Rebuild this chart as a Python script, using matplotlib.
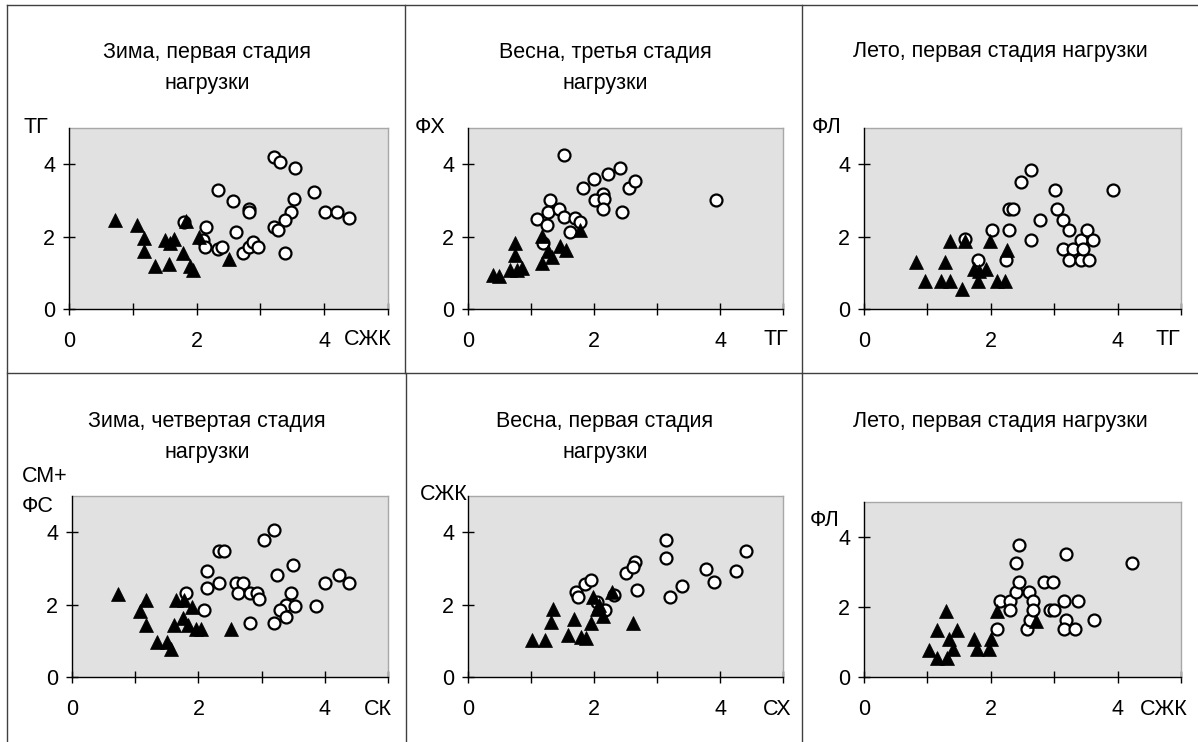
import matplotlib
matplotlib.use("Agg")
import matplotlib.pyplot as plt
from matplotlib.lines import Line2D

plt.rcParams['font.family'] = ['Liberation Sans', 'DejaVu Sans']

W, H = 1198, 742
FS = 15.5

# ---------------- data ----------------
titles = [
    "Зима, первая стадия\nнагрузки",
    "Весна, третья стадия\nнагрузки",
    "Лето, первая стадия нагрузки",
    "Зима, четвертая стадия\nнагрузки",
    "Весна, первая стадия\nнагрузки",
    "Лето, первая стадия нагрузки",
]
x_labels = ["СЖК", "ТГ", "ТГ", "СК", "СХ", "СЖК"]
y_labels = ["ТГ", "ФХ", "ФЛ", "СМ+\nФС", "СЖК", "ФЛ"]
x_ticks = [0, 2, 4]
y_ticks = [0, 2, 4]

# panel 1
p1_circ_x = [3.21, 3.30, 3.55, 2.34, 2.57, 2.82, 2.82, 3.84, 3.52, 3.48, 3.39, 4.02, 4.20, 4.39,
             3.21, 3.28, 2.15, 2.61, 1.80, 2.10, 2.13, 2.33, 2.40, 2.73, 2.82, 2.88, 2.97, 3.39]
p1_circ_y = [4.20, 4.06, 3.89, 3.29, 2.99, 2.77, 2.68, 3.23, 3.05, 2.69, 2.45, 2.69, 2.69, 2.51,
             2.27, 2.19, 2.27, 2.14, 2.41, 1.90, 1.71, 1.67, 1.71, 1.55, 1.71, 1.85, 1.71, 1.55]
p1_tri_x = [0.72, 1.07, 1.17, 1.17, 1.35, 1.50, 1.56, 1.59, 1.65, 1.78, 1.83, 1.90, 1.95, 2.04, 2.50]
p1_tri_y = [2.47, 2.31, 1.96, 1.61, 1.20, 1.90, 1.25, 1.81, 1.94, 1.55, 2.43, 1.20, 1.08, 1.99, 1.38]

# panel 2
p2_circ_x = [1.53, 1.30, 1.10, 1.27, 1.25, 1.44, 1.53, 1.70, 1.62, 1.77, 1.19, 1.83, 2.00, 2.23,
             2.41, 2.14, 2.02, 2.16, 2.14, 2.44, 2.56, 2.65, 3.93]
p2_circ_y = [4.26, 3.00, 2.50, 2.69, 2.31, 2.75, 2.55, 2.52, 2.13, 2.41, 1.82, 3.35, 3.60, 3.72,
             3.89, 3.19, 3.01, 3.05, 2.75, 2.68, 3.35, 3.53, 3.00]
p2_tri_x = [0.39, 0.49, 0.66, 0.74, 0.74, 0.77, 0.86, 1.17, 1.17, 1.27, 1.34, 1.46, 1.56, 1.77]
p2_tri_y = [0.94, 0.90, 1.08, 1.82, 1.50, 1.08, 1.13, 2.01, 1.27, 1.59, 1.45, 1.75, 1.64, 2.19]

# panel 3
p3_circ_x = [1.60, 1.80, 2.02, 2.29, 2.29, 2.35, 2.24, 2.47, 2.63, 2.63, 2.77, 3.02, 3.05, 3.14,
             3.24, 3.14, 3.30, 3.24, 3.42, 3.42, 3.51, 3.46, 3.55, 3.61, 3.93]
p3_circ_y = [1.92, 1.36, 2.19, 2.19, 2.75, 2.75, 1.36, 3.52, 3.83, 1.90, 2.45, 3.29, 2.75, 2.45,
             2.19, 1.67, 1.67, 1.36, 1.36, 1.90, 2.19, 1.67, 1.36, 1.90, 3.29]
p3_tri_x = [0.82, 0.97, 1.21, 1.27, 1.36, 1.36, 1.54, 1.60, 1.74, 1.80, 1.82, 1.93, 1.99, 2.09, 2.22, 2.25]
p3_tri_y = [1.31, 0.78, 0.78, 1.31, 1.87, 0.78, 0.55, 1.87, 1.10, 0.78, 1.04, 1.10, 1.87, 0.78, 0.78, 1.64]

# panel 4
p4_circ_x = [1.80, 2.09, 2.13, 2.13, 2.32, 2.32, 2.41, 2.59, 2.71, 2.62, 2.81, 2.92, 2.96, 3.04,
             2.81, 3.20, 3.25, 3.50, 3.47, 3.39, 3.29, 3.38, 3.53, 3.20, 3.86, 4.01, 4.23, 4.38]
p4_circ_y = [2.33, 1.85, 2.94, 2.45, 2.61, 3.47, 3.47, 2.61, 2.61, 2.31, 2.31, 2.33, 2.15, 3.79,
             1.48, 4.07, 2.81, 3.10, 2.33, 1.98, 1.85, 1.67, 1.96, 1.48, 1.96, 2.61, 2.81, 2.61]
p4_tri_x = [0.72, 1.17, 1.08, 1.17, 1.35, 1.50, 1.56, 1.61, 1.65, 1.75, 1.78, 1.83, 1.90, 1.96, 2.04, 2.51]
p4_tri_y = [2.29, 2.12, 1.81, 1.45, 0.97, 0.97, 0.78, 1.45, 2.13, 1.64, 2.13, 1.45, 1.94, 1.33, 1.33, 1.33]

# panel 5
p5_circ_x = [1.71, 1.74, 1.85, 1.95, 2.04, 2.17, 2.32, 2.50, 2.65, 2.62, 2.69, 3.14, 3.14, 3.21,
             3.39, 3.78, 3.91, 4.26, 4.42]
p5_circ_y = [2.34, 2.20, 2.57, 2.69, 2.07, 1.86, 2.27, 2.86, 3.19, 3.05, 2.40, 3.79, 3.29, 2.20,
             2.52, 2.98, 2.62, 2.94, 3.47]
p5_tri_x = [1.01, 1.22, 1.32, 1.35, 1.59, 1.68, 1.80, 1.87, 1.96, 1.99, 2.04, 2.08, 2.15, 2.29, 2.62]
p5_tri_y = [1.03, 1.03, 1.51, 1.89, 1.16, 1.60, 1.10, 1.08, 1.48, 2.21, 1.87, 1.99, 1.68, 2.35, 1.50]

# panel 6
p6_circ_x = [2.10, 2.15, 2.30, 2.31, 2.40, 2.39, 2.45, 2.45, 2.61, 2.57, 2.62, 2.67, 2.66, 2.84,
             2.98, 2.94, 3.00, 3.16, 3.18, 3.15, 3.18, 3.33, 3.38, 3.63, 4.23]
p6_circ_y = [1.38, 2.17, 2.17, 1.91, 2.43, 3.27, 3.77, 2.72, 2.43, 1.38, 1.63, 2.17, 1.92, 2.72,
             2.72, 1.92, 1.92, 2.17, 1.63, 1.38, 3.51, 1.38, 2.17, 1.63, 3.27]
p6_tri_x = [1.03, 1.15, 1.15, 1.30, 1.31, 1.34, 1.40, 1.46, 1.73, 1.79, 1.97, 2.00, 2.10, 2.72]
p6_tri_y = [0.77, 1.33, 0.55, 1.89, 0.55, 1.08, 0.79, 1.33, 1.08, 0.79, 0.79, 1.08, 1.89, 1.59]

circ_x = [p1_circ_x, p2_circ_x, p3_circ_x, p4_circ_x, p5_circ_x, p6_circ_x]
circ_y = [p1_circ_y, p2_circ_y, p3_circ_y, p4_circ_y, p5_circ_y, p6_circ_y]
tri_x = [p1_tri_x, p2_tri_x, p3_tri_x, p4_tri_x, p5_tri_x, p6_tri_x]
tri_y = [p1_tri_y, p2_tri_y, p3_tri_y, p4_tri_y, p5_tri_y, p6_tri_y]

# ---------------- layout (pixels) ----------------
# left, top, right, bottom(axis line)
rects = [(69, 128, 388, 309), (468, 128, 783, 309), (864, 128, 1181, 309),
         (72, 496, 388, 677), (468, 496, 783, 677), (864, 502, 1181, 677)]
# (x centre, baseline of the last line)
title_pos = [(207, 89), (605, 89), (1000, 57), (207, 458), (605, 458), (1000, 427)]
ylab_pos = [(23, 133), (415, 133), (812, 133), (22, 512), (420, 500), (810, 526)]
xlab_off = [(4, -36), (5, -36), (-1, -36), (4, -38), (8, -38), (7, -38)]


def fx(px):
    return px / W


def fy(py):
    return 1 - py / H


fig = plt.figure(figsize=(W / 100, H / 100), dpi=100)
fig.patch.set_facecolor('white')

for i in range(6):
    l, t, r, b = rects[i]
    ax = fig.add_axes([fx(l), fy(b), fx(r) - fx(l), fy(t) - fy(b)])
    ax.set_facecolor('#e1e1e1')
    ax.plot(circ_x[i], circ_y[i], linestyle='none', marker='o', ms=8.6,
            mfc='white', mec='black', mew=1.6, zorder=3, clip_on=False)
    ax.plot(tri_x[i], tri_y[i], linestyle='none', marker='^', ms=10,
            mfc='black', mec='black', mew=0.5, zorder=4, clip_on=False)
    ax.set_xlim(0, 5)
    ax.set_ylim(0, 5)
    ax.set_xticks(x_ticks)
    ax.set_xticklabels([str(v) for v in x_ticks])
    ax.set_xticks([1, 3, 5], minor=True)
    ax.set_yticks(y_ticks)
    ax.set_yticklabels([str(v) for v in y_ticks])
    ax.tick_params(axis='both', which='both', direction='inout', length=8, width=1,
                   color='black', labelsize=FS)
    ax.tick_params(axis='x', which='major', pad=12)
    ax.tick_params(axis='y', which='major', pad=6)
    for s in ['left', 'bottom']:
        ax.spines[s].set_color('black')
        ax.spines[s].set_linewidth(1.0)
        ax.spines[s].set_zorder(5)
    for s in ['top', 'right']:
        ax.spines[s].set_color('#a8a8a8')
        ax.spines[s].set_linewidth(1.0)
    dx, dy = xlab_off[i]
    ax.annotate(x_labels[i], xy=(1, 0), xycoords='axes fraction', xytext=(dx, dy),
                textcoords='offset pixels', ha='right', va='baseline', fontsize=FS)
    tx, ty = title_pos[i]
    fig.text(fx(tx), fy(ty), titles[i], ha='center', va='baseline', fontsize=FS,
             linespacing=1.65, multialignment='center')
    lx, ly = ylab_pos[i]
    fig.text(fx(lx), fy(ly), y_labels[i], ha='left', va='baseline', fontsize=FS,
             linespacing=1.55)

# cell borders
border = dict(color='#404040', linewidth=1.0, transform=fig.transFigure)
fig.add_artist(Line2D([fx(7), 1], [fy(5), fy(5)], **border))
fig.add_artist(Line2D([fx(7), fx(7)], [fy(5), 0], **border))
fig.add_artist(Line2D([fx(7), 1], [fy(373), fy(373)], **border))
fig.add_artist(Line2D([fx(405), fx(405)], [fy(5), fy(373)], **border))
fig.add_artist(Line2D([fx(802), fx(802)], [fy(5), fy(373)], **border))
fig.add_artist(Line2D([fx(406), fx(406)], [fy(373), 0], **border))
fig.add_artist(Line2D([fx(802), fx(802)], [fy(373), 0], **border))

fig.savefig('out.png', dpi=100)
